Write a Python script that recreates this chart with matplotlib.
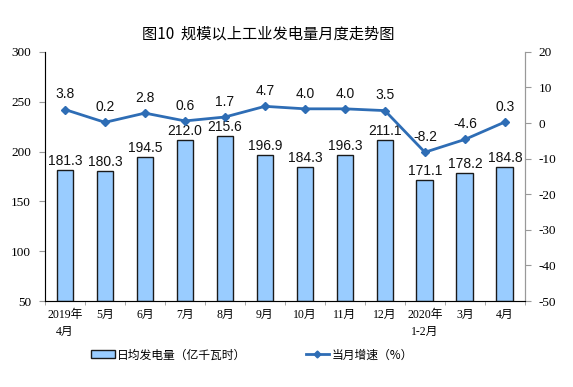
import matplotlib
matplotlib.use("Agg")
import matplotlib.pyplot as plt
import numpy as np

plt.rcParams['font.family'] = ['Liberation Sans', 'Noto Sans CJK SC', 'DejaVu Sans']
plt.rcParams['axes.unicode_minus'] = False

categories = ['2019年\n4月', '5月', '6月', '7月', '8月', '9月', '10月', '11月', '12月', '2020年\n1-2月', '3月', '4月']
output = [181.3, 180.3, 194.5, 212.0, 215.6, 196.9, 184.3, 196.3, 211.1, 171.1, 178.2, 184.8]
growth = [3.8, 0.2, 2.8, 0.6, 1.7, 4.7, 4.0, 4.0, 3.5, -8.2, -4.6, 0.3]
left_ticks = [50, 100, 150, 200, 250, 300]
right_ticks = [-50, -40, -30, -20, -10, 0, 10, 20]

fig = plt.figure(figsize=(5.73, 3.87), dpi=100)
ax = fig.add_axes([0.0785, 0.222, 0.8375, 0.644])
x = np.arange(len(categories))
ax.bar(x, [v - 50 for v in output], bottom=50, width=0.42, color='#99CCFF', edgecolor='#1a1a1a', linewidth=1.0, zorder=2)
ax.set_ylim(50, 300)
ax.set_xlim(-0.5, len(categories) - 0.5)
ax.set_yticks(left_ticks)
ax.set_xticks(x)
ax.set_xticklabels(categories, fontsize=8.5, family=['Liberation Serif', 'Noto Sans CJK SC'], linespacing=1.45)
ax.tick_params(axis='x', length=0, pad=6)
ax.set_xticks(np.arange(-0.5, len(categories), 1), minor=True)
ax.tick_params(axis='x', which='minor', length=3, color='#999999')
for lbl in ax.get_yticklabels():
    lbl.set_family(['Liberation Serif'])
    lbl.set_fontsize(9.5)
ax.tick_params(axis='y', length=4, color='#999999', pad=6)
ax.spines['top'].set_visible(False)
for s in ['left', 'bottom', 'right']:
    ax.spines[s].set_color('#999999')

for xi, v in zip(x, output):
    ax.text(xi, v + 2, f'{v:.1f}', ha='center', va='bottom', fontsize=10, color='#111111')

ax2 = ax.twinx()
ax2.set_ylim(-50, 20)
ax2.set_yticks(right_ticks)
for lbl in ax2.get_yticklabels():
    lbl.set_family(['Liberation Serif'])
    lbl.set_fontsize(9.5)
ax2.tick_params(axis='y', length=4, color='#999999', pad=6)
ax2.spines['top'].set_visible(False)
ax2.spines['right'].set_color('#999999')
ax2.plot(x, growth, color='#2E6DB5', linewidth=2, marker='D', markersize=4.5, zorder=3)
for xi, v in zip(x, growth):
    ax2.text(xi, v + 2.3, f'{v:.1f}', ha='center', va='bottom', fontsize=10, color='#111111')

fig.text(0.468, 0.912, '图10  规模以上工业发电量月度走势图', ha='center', va='center', fontsize=11,
         family=['Noto Sans CJK SC', 'DejaVu Sans'])

from matplotlib.patches import Patch
from matplotlib.lines import Line2D
handles = [Patch(facecolor='#99CCFF', edgecolor='#1a1a1a', linewidth=1.0),
           Line2D([0], [0], color='#2E6DB5', linewidth=2, marker='D', markersize=3.5)]
fig.legend(handles, ['日均发电量（亿千瓦时）', '当月增速（%）'], loc='center', bbox_to_anchor=(0.44, 0.083),
           ncol=2, frameon=False, columnspacing=5.0, handlelength=2.0, handletextpad=0.2,
           prop={'family': ['Noto Sans CJK SC', 'DejaVu Sans'], 'size': 8.5})

fig.savefig('out.png', dpi=100)
